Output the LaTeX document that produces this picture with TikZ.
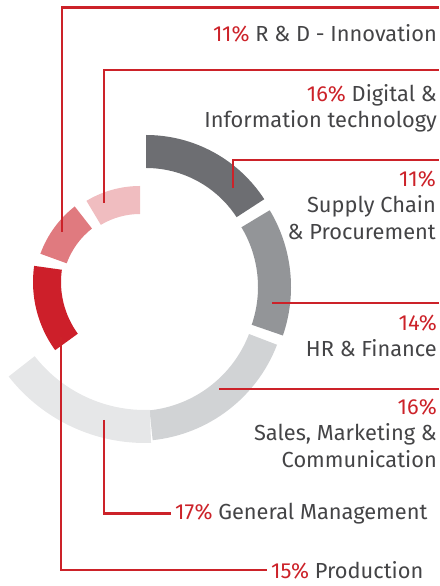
\documentclass[tikz,border=0pt]{standalone}
\usepackage{fontspec}
\setmainfont{Fira Sans}
\usepackage{tikz}
\usetikzlibrary{calc,positioning}
\definecolor{pctred}{HTML}{CC2229}
\definecolor{txtgray}{HTML}{444446}
\definecolor{segred}{HTML}{CD1F2A}
\definecolor{segpink}{HTML}{E07A7F}
\definecolor{segrose}{HTML}{F0BDC0}
\definecolor{segdark}{HTML}{6D6E72}
\definecolor{segmid}{HTML}{939598}
\definecolor{seglight}{HTML}{D1D3D5}
\definecolor{segpale}{HTML}{E6E7E8}
\tikzset{lead/.style={draw=pctred, line width=2.4pt}}
\tikzstyle{lbl}=[inner sep=0pt, align=right, text=txtgray, font=\fontsize{21.8}{26.3}\selectfont]
\newcommand{\pc}[1]{\textcolor{pctred}{#1\%}}
% ring piece: centre, inner r, outer r, from, to, colour
\newcommand{\ringseg}[6]{\fill[#6] ($(#1)+(#4:#3)$) arc[start angle=#4, end angle=#5, radius=#3] -- ($(#1)+(#5:#2)$) arc[start angle=#5, end angle=#4, radius=#2] -- cycle;}

\begin{document}
\begin{tikzpicture}[x=1pt, y=1pt]
\useasboundingbox (0,0) rectangle (439,586);
% ring
\coordinate (c-sc) at (146,310);
\coordinate (c-hr) at (142,299);
\coordinate (c-sm) at (137,295);
\coordinate (c-gm) at (145,316);
\coordinate (c-pr) at (149,304);
\coordinate (c-dg) at (140,296);
\coordinate (c-rd) at (140,296);
\ringseg{c-sc}{108}{141}{90}{33}{segdark}
\ringseg{c-hr}{116}{149}{31}{-19}{segmid}
\ringseg{c-sm}{120}{150}{-21}{-84}{seglight}
\ringseg{c-gm}{140}{173}{-88}{-142}{segpale}
\ringseg{c-pr}{88}{116}{172}{216}{segred}
\ringseg{c-dg}{76}{104}{90}{121}{segrose}
\ringseg{c-rd}{78}{106}{128}{160}{segpink}
% labels (base = last line)
\node[lbl, anchor=base east] (rd-lbl) at (437,544.3) {\pc{11} R \& D - Innovation};
\node[lbl, anchor=base east] (dg-lbl) at (437,458) {\pc{16} Digital \&\\Information technology};
\node[lbl, anchor=base east] (sc-lbl) at (436,346.7) {\pc{11}\\Supply Chain\\\& Procurement};
\node[lbl, anchor=base east] (hr-lbl) at (437,229.3) {\pc{14}\\HR \& Finance};
\node[lbl, anchor=base east] (sm-lbl) at (437,118.7) {\pc{16}\\Sales, Marketing \&\\Communication};
\node[lbl, anchor=base west, inner xsep=4pt] (gm-lbl) at (171,66.7) {\pc{17} General Management};
\node[lbl, anchor=base west, inner xsep=4pt] (pr-lbl) at (267,7.7) {\pc{15} Production};
% leaders
\coordinate (rd-a) at (62,354);  \coordinate (rd-b) at (439,578.5);
\coordinate (dg-a) at (104,383); \coordinate (dg-b) at (439,516);
\coordinate (sc-a) at (233,398); \coordinate (sc-b) at (439,426);
\coordinate (hr-a) at (272,283); \coordinate (hr-b) at (439,283);
\coordinate (sm-a) at (219,197); \coordinate (sm-b) at (439,197);
\coordinate (gm-a) at (104,166);
\coordinate (pr-a) at (61,249);
\draw[lead] (rd-a) |- (rd-b);
\draw[lead] (dg-a) |- (dg-b);
\draw[lead] (sc-a) |- (sc-b);
\draw[lead] (hr-a) -- (hr-b);
\draw[lead] (sm-a) -- (sm-b);
\draw[lead] (gm-a) |- (gm-lbl);
\draw[lead] (pr-a) |- (pr-lbl);
\end{tikzpicture}
\end{document}
